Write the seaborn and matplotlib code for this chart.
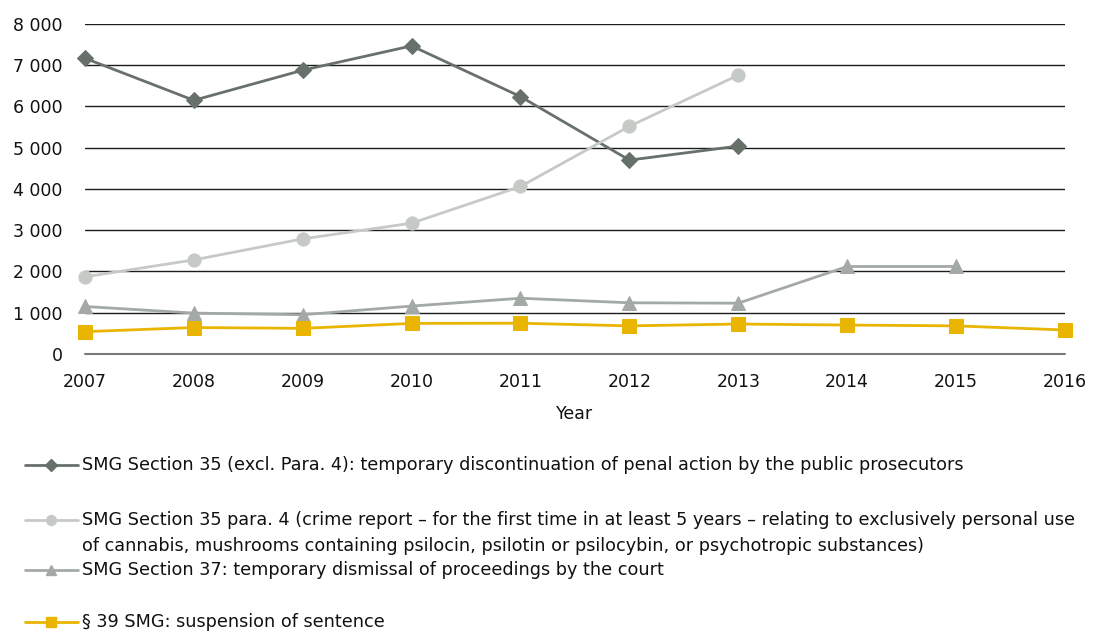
import matplotlib
matplotlib.use("Agg")
import matplotlib.pyplot as plt
from matplotlib.lines import Line2D
from matplotlib.ticker import FuncFormatter
import seaborn as sns
import numpy as np
import pandas as pd

years = [2007, 2008, 2009, 2010, 2011, 2012, 2013, 2014, 2015, 2016]

s35_excl = [7170, 6150, 6880, 7470, 6240, 4700, 5040, np.nan, np.nan, np.nan]
s35_para4 = [1870, 2280, 2790, 3170, 4060, 5520, 6760, np.nan, np.nan, np.nan]
s37 = [1150, 990, 950, 1160, 1350, 1240, 1230, 2120, 2120, np.nan]
s39 = [540, 640, 620, 740, 745, 680, 725, 700, 680, 580]

labels = [
    "SMG Section 35 (excl. Para. 4): temporary discontinuation of penal action by the public prosecutors",
    "SMG Section 35 para. 4 (crime report \u2013 for the first time in at least 5 years \u2013 relating to exclusively personal use\n"
    "of cannabis, mushrooms containing psilocin, psilotin or psilocybin, or psychotropic substances)",
    "SMG Section 37: temporary dismissal of proceedings by the court",
    "\u00a7 39 SMG: suspension of sentence",
]
colors = ["#67716a", "#c6cac7", "#a3aaa5", "#e9b500"]
markers = ["D", "o", "^", "s"]
msizes = [8.5, 9.5, 9.5, 10]

sns.set_style("white")
plt.rcParams["font.family"] = ["DejaVu Sans"]

fig = plt.figure(figsize=(10.99, 6.32), dpi=100)
ax = fig.add_axes([0.0773, 0.440, 0.8917, 0.522])

series = [s35_excl, s35_para4, s37, s39]
for vals, lab, col, mk, ms in zip(series, labels, colors, markers, msizes):
    df = pd.DataFrame({"year": years, "value": vals}).dropna()
    sns.lineplot(data=df, x="year", y="value", ax=ax, color=col, linewidth=2,
                 marker=mk, markersize=ms, markeredgecolor=col, clip_on=False,
                 zorder=3)

ax.set_xlim(2007, 2016)
ax.set_ylim(0, 8000)
ax.set_xticks(years)
ax.set_yticks(range(0, 8001, 1000))
ax.yaxis.set_major_formatter(FuncFormatter(lambda v, p: f"{int(v):,}".replace(",", " ")))
ax.grid(axis="y", color="#1c1c1c", linewidth=1)
ax.grid(axis="x", visible=False)
ax.axhline(0, color="#7a7a7a", linewidth=1.5, clip_on=False, zorder=2)
for sp in ax.spines.values():
    sp.set_visible(False)
ax.tick_params(axis="both", length=0, labelsize=12.5, colors="#111111")
ax.tick_params(axis="y", pad=16)
ax.tick_params(axis="x", pad=14)
ax.set_xlabel("Year", fontsize=12.5, labelpad=10, color="#111111")
ax.set_ylabel("")

# manual legend below the chart
leg_y = [465, 520, 570, 622]
for lab, col, mk, ms, yp in zip(labels, colors, markers, msizes, leg_y):
    fy = 1 - yp / 632
    fig.add_artist(Line2D([25 / 1099, 78 / 1099], [fy, fy], color=col, linewidth=2,
                          transform=fig.transFigure))
    fig.add_artist(Line2D([51 / 1099], [fy], color=col, marker=mk, markersize=ms * 0.75,
                          markeredgecolor=col, transform=fig.transFigure))
    if "\n" in lab:
        fig.text(82 / 1099, fy + 9 / 632, lab, fontsize=12.7, va="top",
                 color="#111111", linespacing=1.6)
    else:
        fig.text(82 / 1099, fy, lab, fontsize=12.7, va="center", color="#111111")

fig.savefig("out.png", dpi=100)
